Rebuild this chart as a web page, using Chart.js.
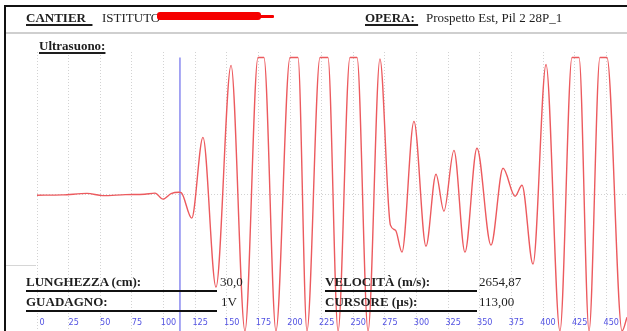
<!DOCTYPE html>
<html>
<head>
<meta charset="utf-8">
<script src="https://cdn.jsdelivr.net/npm/chart.js@4.4.1/dist/chart.umd.min.js"></script>
<style>
  html, body { margin: 0; padding: 0; background: #fff; }
  #sheet { position: relative; width: 627px; height: 331px; overflow: hidden;
           font-family: 'Liberation Serif', 'Times New Roman', serif; color: #1e1e1e; }
  #plot { position: absolute; left: 0; top: 0; width: 627px; height: 331px; }
  .txt { position: absolute; white-space: nowrap; font-size: 13px; line-height: 14px; }
  .b { font-weight: bold; }
  .u { text-decoration: underline; text-decoration-thickness: 1.5px; text-underline-offset: 2px; }
  .rule { position: absolute; }
</style>
</head>
<body>
<div id="sheet">
  <div id="plot"><canvas id="chart"></canvas></div>

  <!-- frame -->
  <div class="rule" style="left:4px;top:5px;width:623px;height:2px;background:#111;"></div>
  <div class="rule" style="left:4px;top:5px;width:2px;height:326px;background:#111;"></div>
  <div class="rule" style="left:6px;top:32px;width:621px;height:2px;background:#cfcfcf;"></div>
  <div class="rule" style="left:6px;top:265px;width:30px;height:1px;background:#d6d6d6;"></div>

  <!-- header -->
  <div class="txt b u" style="left:26px;top:11px;">CANTIER&nbsp;&nbsp;</div>
  <div class="txt" style="left:102px;top:11px;">ISTITUTO</div>
  <div class="rule" style="left:157px;top:12px;width:104px;height:8px;background:#f50000;border-radius:3px;"></div>
  <div class="rule" style="left:256px;top:15px;width:18px;height:2.5px;background:#f50000;border-radius:1px;"></div>
  <div class="txt b u" style="left:365px;top:11px;">OPERA:&nbsp;</div>
  <div class="txt" style="left:426px;top:11px;">Prospetto Est, Pil 2 28P_1</div>
  <div class="txt b u" style="left:39px;top:39px;font-size:13px;">Ultrasuono:</div>

  <!-- readouts -->
  <div class="txt b" style="left:26px;top:275px;">LUNGHEZZA (cm):</div>
  <div class="rule" style="left:26px;top:290px;width:191px;height:2px;background:#111;"></div>
  <div class="txt" style="left:220px;top:275px;">30,0</div>
  <div class="txt b" style="left:26px;top:295px;">GUADAGNO:</div>
  <div class="rule" style="left:26px;top:310px;width:191px;height:2px;background:#111;"></div>
  <div class="txt" style="left:221px;top:295px;">1V</div>

  <div class="txt b" style="left:325px;top:275px;">VELOCITÀ (m/s):</div>
  <div class="rule" style="left:325px;top:290px;width:152px;height:2px;background:#111;"></div>
  <div class="txt" style="left:479px;top:275px;">2654,87</div>
  <div class="txt b" style="left:325px;top:295px;">CURSORE (µs):</div>
  <div class="rule" style="left:325px;top:310px;width:152px;height:2px;background:#111;"></div>
  <div class="txt" style="left:479px;top:295px;">113,00</div>
</div>

<script>
/* global Chart */

// time axis in µs, amplitude in % of full scale (±100 = clipped)
const timeUs = [
  0, 20, 39.5, 52, 70, 85, 93.3, 99.6, 106, 112.3, 114,
  122.3, 131.2, 141.5, 153.4, 164.4,
  174.7, 179.4, 188.9, 200, 206.3, 213.4, 223.7, 230, 238, 247.4, 253, 261.7,
  271.1, 279.4, 283.4, 288.5, 298, 307.5, 315.4, 321.7, 329.6, 338.3, 347.8,
  358.9, 368.4, 377.9, 383.4, 392.1, 402.4, 413.4, 422.9, 428.5, 436.4,
  445, 450.6, 462.5, 466.4
];
const amplitude = [
  -0.7, -0.5, 0.6, -1, -0.3, 0, 0.8, -3.6, 0.5, 1.5, 1.2,
  -17.5, 41.6, -67.9, 94.2, -100,
  100, 100, -100, 100, 100, -100, 100, 100, -100, 100, 100, -100,
  99, -22.6, -26.3, -42.3, 53.3, -38, 14.6, -12.4, 32.1, -42.3, 33.6,
  -37.2, 19, -1.5, 6.6, -51.1, 94.9, -100, 100, 100, -100,
  100, 100, -100, -90
];

const cursorUs = 113;
const cursorSpan = [-100, 100];

const xTicks = [0, 25, 50, 75, 100, 125, 150, 175, 200, 225, 250, 275, 300, 325, 350, 375, 400, 425, 450];
const yTicks = [0];
const xMax = 466.4;

const wave = timeUs.map(function(t, i) { return { x: t, y: amplitude[i] }; });
const cursor = cursorSpan.map(function(v) { return { x: cursorUs, y: v }; });

const ctx = document.getElementById('chart').getContext('2d');

new Chart(ctx, {
  type: 'line',
  data: {
    datasets: [
      {
        data: cursor,
        borderColor: '#8a8af0',
        borderWidth: 1.5,
        pointRadius: 0,
        order: 2,
      },
      {
        data: wave,
        borderColor: '#ec5a5e',
        borderWidth: 1.4,
        pointRadius: 0,
        cubicInterpolationMode: 'monotone',
        order: 1,
      },
    ],
  },
  options: {
    responsive: true,
    maintainAspectRatio: false,
    animation: false,
    layout: { padding: { left: 37, top: 52, right: 0, bottom: 0 } },
    plugins: {
      legend: { display: false },
      tooltip: { enabled: false },
    },
    scales: {
      x: {
        type: 'linear',
        min: 0,
        max: xMax,
        afterBuildTicks: function(scale) {
          scale.ticks = xTicks.map(function(v) { return { value: v }; });
        },
        afterFit: function(scale) { scale.height = 0; },
        grid: { color: '#d2d2d2', lineWidth: 1, drawTicks: false },
        border: { display: false, dash: [1, 2] },
        ticks: {
          color: '#5252e2',
          font: { family: "'Liberation Sans Narrow', 'DejaVu Sans Condensed', sans-serif", size: 9 },
          mirror: true,
          padding: 3,
          labelOffset: 5,
          autoSkip: false,
          maxRotation: 0,
        },
      },
      y: {
        min: -100,
        max: 104,
        afterBuildTicks: function(scale) {
          scale.ticks = yTicks.map(function(v) { return { value: v }; });
        },
        afterFit: function(scale) { scale.width = 0; },
        grid: { color: '#d2d2d2', lineWidth: 1, drawTicks: false },
        border: { display: false, dash: [1, 2] },
        ticks: { display: false },
      },
    },
  },
});
</script>
</body>
</html>
